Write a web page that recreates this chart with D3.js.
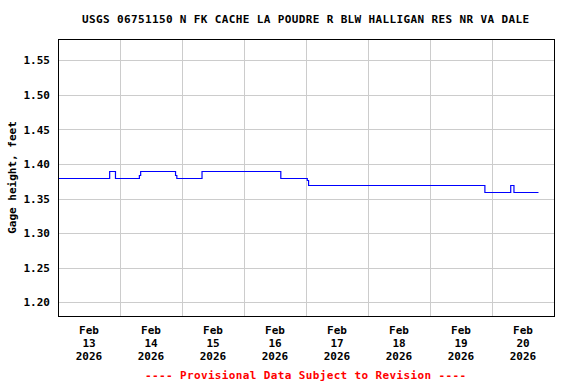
<!DOCTYPE html>
<html>
<head>
<meta charset="utf-8">
<script src="https://cdn.jsdelivr.net/npm/d3@7"></script>
<style>
  body { margin: 0; background: #fff; }
  text { font-family: "DejaVu Sans Mono", "Liberation Mono", monospace; font-weight: bold; }
</style>
</head>
<body>
<div class="chart"></div>
<script>
// Set up our chart
var svgWidth = 576;
var svgHeight = 384;

var margin = { top: 39, right: 22, bottom: 68, left: 58 };

var width = svgWidth - margin.left - margin.right;
var height = svgHeight - margin.top - margin.bottom;

var title = "USGS 06751150 N FK CACHE LA POUDRE R BLW HALLIGAN RES NR VA DALE";
var yLabel = "Gage height, feet";
var footNote = "---- Provisional Data Subject to Revision ----";

// gage height readings where the value changes (time, feet)
var readTimes = [
  "2026-02-13T00:00", "2026-02-13T20:00", "2026-02-13T22:15", "2026-02-14T07:30",
  "2026-02-14T08:00", "2026-02-14T21:30", "2026-02-14T22:00", "2026-02-15T07:45",
  "2026-02-16T14:15", "2026-02-17T00:30", "2026-02-17T01:00", "2026-02-19T21:15",
  "2026-02-20T07:15", "2026-02-20T08:30", "2026-02-20T18:00"
];
var readValues = [
  1.38, 1.39, 1.38, 1.384,
  1.39, 1.384, 1.38, 1.39,
  1.38, 1.377, 1.37, 1.36,
  1.37, 1.36, 1.36
];

var yTicks = [1.20, 1.25, 1.30, 1.35, 1.40, 1.45, 1.50, 1.55];
var dayTicks = ["2026-02-13", "2026-02-14", "2026-02-15", "2026-02-16",
  "2026-02-17", "2026-02-18", "2026-02-19", "2026-02-20"];

var parseTime = d3.timeParse("%Y-%m-%dT%H:%M");
var parseDay = d3.timeParse("%Y-%m-%d");

var data = readTimes.map(function(t, i) {
  return { date: parseTime(t), value: readValues[i] };
});

var svg = d3.select(".chart")
  .append("svg")
  .attr("width", svgWidth)
  .attr("height", svgHeight);

var chart = svg.append("g")
  .attr("transform", "translate(" + margin.left + "," + margin.top + ")");

// Create scale functions
var xTimeScale = d3.scaleTime()
  .domain([parseDay("2026-02-13"), parseDay("2026-02-21")])
  .range([0, width]);

var yLinearScale = d3.scaleLinear()
  .domain([1.18, 1.581])
  .range([height, 0]);

// gridlines
var midnights = dayTicks.slice(1).map(parseDay);
chart.append("g")
  .selectAll("line")
  .data(midnights)
  .enter()
  .append("line")
  .attr("x1", function(d) { return Math.round(xTimeScale(d)) + 0.5; })
  .attr("x2", function(d) { return Math.round(xTimeScale(d)) + 0.5; })
  .attr("y1", 0)
  .attr("y2", height)
  .attr("stroke", "#cccccc");

chart.append("g")
  .selectAll("line")
  .data(yTicks)
  .enter()
  .append("line")
  .attr("x1", 0)
  .attr("x2", width)
  .attr("y1", function(d) { return Math.round(yLinearScale(d)) + 0.5; })
  .attr("y2", function(d) { return Math.round(yLinearScale(d)) + 0.5; })
  .attr("stroke", "#cccccc");

// the data line
var line = d3.line()
  .x(function(d) { return xTimeScale(d.date); })
  .y(function(d) { return Math.round(yLinearScale(d.value)) + 0.5; })
  .curve(d3.curveStepAfter);

chart.append("path")
  .datum(data)
  .attr("d", line)
  .attr("fill", "none")
  .attr("stroke", "#0000ff")
  .attr("stroke-width", 1.2);

// frame
chart.append("rect")
  .attr("x", 0.5)
  .attr("y", 0.5)
  .attr("width", width)
  .attr("height", height)
  .attr("fill", "none")
  .attr("stroke", "#000");

// y axis labels
var leftAxis = d3.axisLeft(yLinearScale)
  .tickValues(yTicks)
  .tickFormat(d3.format(".2f"))
  .tickSize(0)
  .tickPadding(8);

var yAxis = chart.append("g").call(leftAxis);
yAxis.select(".domain").remove();
yAxis.selectAll("text")
  .style("font-size", "11px")
  .style("font-family", "'DejaVu Sans Mono', monospace")
  .style("font-weight", "bold")
  .attr("fill", "#000");

// x axis labels at noon of each day
var fmtMon = d3.timeFormat("%b");
var fmtDay = d3.timeFormat("%d");
var fmtYear = d3.timeFormat("%Y");
var xLabels = chart.append("g")
  .selectAll("text")
  .data(dayTicks.map(parseDay))
  .enter()
  .append("text")
  .attr("text-anchor", "middle")
  .style("font-size", "11px")
  .attr("transform", function(d) {
    return "translate(" + xTimeScale(d3.timeHour.offset(d, 12)) + "," + (height + 18) + ")";
  });
xLabels.append("tspan").attr("x", 0).attr("y", 0).text(fmtMon);
xLabels.append("tspan").attr("x", 0).attr("y", 13).text(fmtDay);
xLabels.append("tspan").attr("x", 0).attr("y", 26).text(fmtYear);

// y axis title
svg.append("text")
  .attr("transform", "translate(16," + (margin.top + height / 2) + ") rotate(-90)")
  .attr("text-anchor", "middle")
  .style("font-size", "11px")
  .text(yLabel);

// chart title
svg.append("text")
  .attr("x", 82)
  .attr("y", 23)
  .attr("textLength", 447)
  .attr("lengthAdjust", "spacing")
  .style("font-size", "11px")
  .text(title);

// provisional note
svg.append("text")
  .attr("x", 145)
  .attr("y", 379)
  .attr("textLength", 321)
  .attr("lengthAdjust", "spacing")
  .style("font-size", "11px")
  .attr("fill", "#ff0000")
  .text(footNote);
</script>
</body>
</html>
